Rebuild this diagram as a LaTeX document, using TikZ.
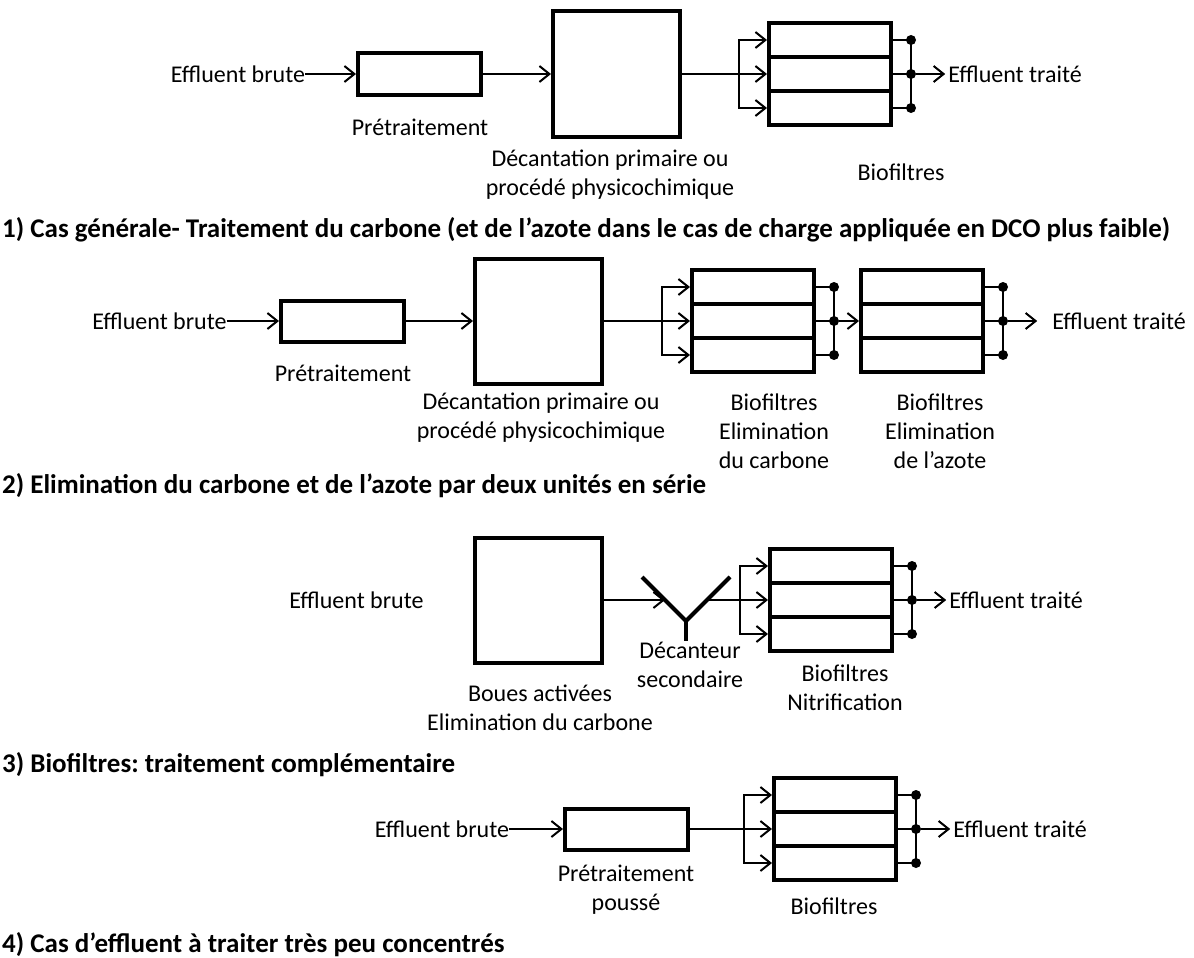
\documentclass[tikz,border=0pt]{standalone}
\usepackage{fontspec}
\setmainfont{Carlito}
\usetikzlibrary{arrows.meta,positioning}
\frenchspacing

\tikzset{
  box/.style={draw, line width=4pt, inner sep=0pt},
  pretreat/.style={box, minimum width=123pt, minimum height=41pt},
  tank/.style={box, minimum width=127pt, minimum height=125pt},
  cell/.style={box, minimum width=122pt, minimum height=34pt},
  txt/.style={inner sep=0pt, align=center, font=\fontsize{24}{29}\selectfont},
  outlbl/.style={txt, inner xsep=3pt},
  title/.style={inner sep=0pt, anchor=west, font=\fontsize{27}{32}\selectfont\bfseries},
  flow/.style={line width=2pt, -{Straight Barb[length=10pt,width=16pt]}},
  pipe/.style={line width=2pt},
  joint/.style={circle, fill, inner sep=0pt, minimum size=10pt},
}

% biofilter: three cells and the collecting joints
\newcommand{\biofilter}[3]{%
  \node[cell] (#1-b) at (#2,#3) {};
  \node[cell] (#1-a) at (#2,#3-34) {};
  \node[cell] (#1-c) at (#2,#3+34) {};
  \node[joint] (#1-ja) at ([xshift=18pt]#1-a.east) {};
  \node[joint] (#1-jb) at ([xshift=18pt]#1-b.east) {};
  \node[joint] (#1-jc) at ([xshift=18pt]#1-c.east) {};
  \draw[pipe] (#1-a.east) -- (#1-ja.center) -- (#1-jc.center) -- (#1-c.east);
  \draw[pipe] (#1-b.east) -- (#1-jb.center);
}
% feeding of the three cells
\newcommand{\feed}[1]{%
  \coordinate (#1-in) at ([xshift=-28pt]#1-b.west);
  \draw[flow] (#1-in) |- (#1-a.west);
  \draw[flow] (#1-in) |- (#1-c.west);
  \draw[flow] (#1-in) -- (#1-b.west);
}

\begin{document}
\begin{tikzpicture}[x=1pt, y=-1pt]
  \useasboundingbox (0,0) rectangle (1194,958);

  % 1) cas general
  \node[txt] (in1) at (238,74) {Effluent brute};
  \node[pretreat] (pre1) at (419.5,74) {};
  \node[txt] (pre1-l) at (420,127) {Prétraitement};
  \node[tank] (dec1) at (616.5,74) {};
  \node[txt] (dec1-l) at (610,174.5) {Décantation primaire ou\\procédé physicochimique};
  \biofilter{bf1}{830}{74}
  \feed{bf1}
  \node[txt] (bf1-l) at (901,172) {Biofiltres};
  \node[outlbl, right=29pt of bf1-jb] (out1) {Effluent traité};
  \draw[flow] (in1) -- (pre1);
  \draw[flow] (pre1) -- (dec1);
  \draw[pipe] (dec1) -- (bf1-in);
  \draw[flow] (bf1-jb) -- (out1);
  \node[title] (t1) at (2,230) {1) Cas générale- Traitement du carbone (et de l’azote dans le cas de charge appliquée en DCO plus faible)};

  % 2) deux unites en serie
  \node[txt] (in2) at (159.5,321) {Effluent brute};
  \node[pretreat] (pre2) at (342.5,321) {};
  \node[txt] (pre2-l) at (343,373) {Prétraitement};
  \node[tank] (dec2) at (538.5,321) {};
  \node[txt] (dec2-l) at (541,417.5) {Décantation primaire ou\\procédé physicochimique};
  \biofilter{bf2}{753}{321}
  \feed{bf2}
  \biofilter{bf3}{922}{321}
  \node[txt] (bf2-l) at (774,431.5) {Biofiltres\\Elimination\\du carbone};
  \node[txt] (bf3-l) at (940,431.5) {Biofiltres\\Elimination\\de l’azote};
  \node[outlbl, inner xsep=15pt, right=29pt of bf3-jb] (out2) {Effluent traité};
  \draw[flow] (in2) -- (pre2);
  \draw[flow] (pre2) -- (dec2);
  \draw[pipe] (dec2) -- (bf2-in);
  \draw[flow] (bf2-jb) -- (bf3-b);
  \draw[flow] (bf3-jb) -- (out2);
  \node[title] (t2) at (2,486) {2) Elimination du carbone et de l’azote par deux unités en série};

  % 3) traitement complementaire
  \node[txt] (in3) at (356.5,600) {Effluent brute};
  \node[tank] (act3) at (538,600) {};
  \node[txt] (act3-l) at (540,707.5) {Boues activées\\Elimination du carbone};
  \coordinate (sec3) at (686,621);
  \coordinate (sec3-in) at (665,600);
  \coordinate (sec3-out) at (707,600);
  \draw[line width=4pt] (642,577) -- (sec3) -- (730,577);
  \draw[line width=4pt] (sec3) -- (686,641);
  \node[txt] (sec3-l) at (690,664.5) {Décanteur\\secondaire};
  \biofilter{bf4}{831}{600}
  \feed{bf4}
  \node[txt] (bf4-l) at (845,687.5) {Biofiltres\\Nitrification};
  \node[outlbl, right=29pt of bf4-jb] (out3) {Effluent traité};
  \draw[flow] (act3) -- (sec3-in);
  \draw[pipe] (sec3-out) -- (bf4-in);
  \draw[flow] (bf4-jb) -- (out3);
  \node[title] (t3) at (2,765) {3) Biofiltres: traitement complémentaire};

  % 4) effluent peu concentre
  \node[txt] (in4) at (442,829) {Effluent brute};
  \node[pretreat] (pre4) at (626.5,829) {};
  \node[txt] (pre4-l) at (626,890) {Prétraitement\\poussé};
  \biofilter{bf5}{835}{829}
  \feed{bf5}
  \node[txt] (bf5-l) at (834,906) {Biofiltres};
  \node[outlbl, right=29pt of bf5-jb] (out4) {Effluent traité};
  \draw[flow] (in4) -- (pre4);
  \draw[pipe] (pre4) -- (bf5-in);
  \draw[flow] (bf5-jb) -- (out4);
  \node[title] (t4) at (2,945) {4) Cas d’effluent à traiter très peu concentrés};
\end{tikzpicture}
\end{document}
